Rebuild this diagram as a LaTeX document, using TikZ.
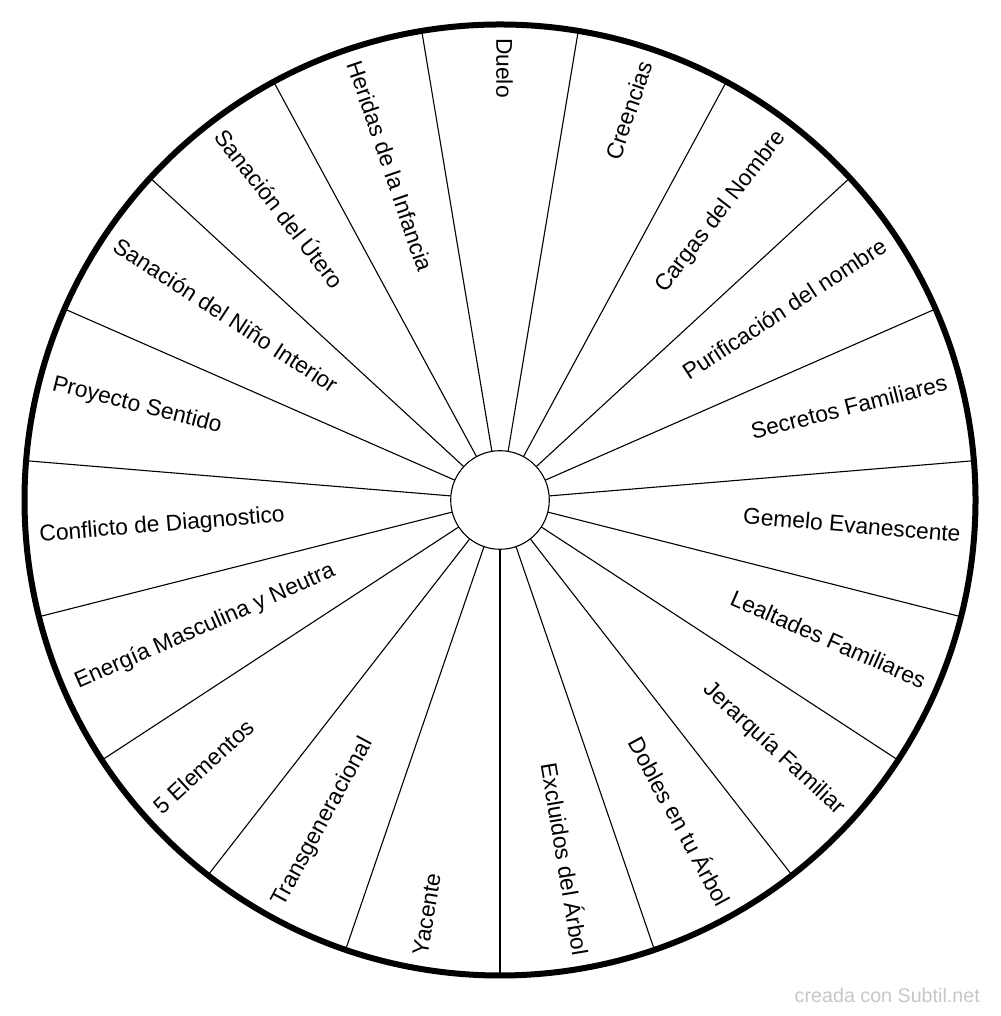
\documentclass[tikz,border=0pt]{standalone}
\usepackage{fontspec}
\setmainfont{Liberation Sans}
\usetikzlibrary{calc}
\tikzset{
  lbl/.style={inner sep=0pt, text height=0.72em, text depth=0pt, font=\fontsize{22.8}{27}\selectfont},
  spoke/.style={line width=1.1pt, black},
  rim/.style={line width=6pt, black},
  hub/.style={line width=1.1pt, black, fill=white},
}
\begin{document}
\begin{tikzpicture}[x=1pt,y=1pt]
\useasboundingbox (0,0) rectangle (1000,1016);
\fill[white] (0,0) rectangle (1000,1016);
\coordinate (c) at (500,516);
% spokes
\foreach \k in {0,...,18}{
  \pgfmathsetmacro\a{270+\k*360/19}
  \draw[spoke] ($(c)+(\a:49.3)$) -- ($(c)+(\a:475.5)$);
}
\draw[rim] (c) circle (475.5);
\draw[hub] (c) circle (49.3);
% right-half labels
\foreach \t [count=\i from 1] in {Creencias, Cargas del Nombre, Purificación del nombre, Secretos Familiares, Gemelo Evanescente, Lealtades Familiares, Jerarquía Familiar, Dobles en tu Árbol, Excluidos del Árbol}{
  \pgfmathsetmacro\a{90-\i*360/19}
  \node[lbl, anchor=east, rotate=\a] (r\i) at ($(c)+(\a:462)$) {\t};
}
% left-half labels
\foreach \t [count=\i from 10] in {Yacente, Transgeneracional, 5 Elementos, Energía Masculina y Neutra, Conflicto de Diagnostico, Proyecto Sentido, Sanación del Niño Interior, Sanación del Útero, Heridas de la Infancia, Duelo}{
  \pgfmathsetmacro\a{90-\i*360/19}
  \pgfmathsetmacro\b{\a+180}
  \node[lbl, anchor=west, rotate=\b] (l\i) at ($(c)+(\a:462)$) {\t};
}
\node[anchor=base east, inner sep=0pt, text=black!22, font=\fontsize{19.7}{23}\selectfont] (wm) at (980,13) {creada con Subtil.net};
\end{tikzpicture}
\end{document}
